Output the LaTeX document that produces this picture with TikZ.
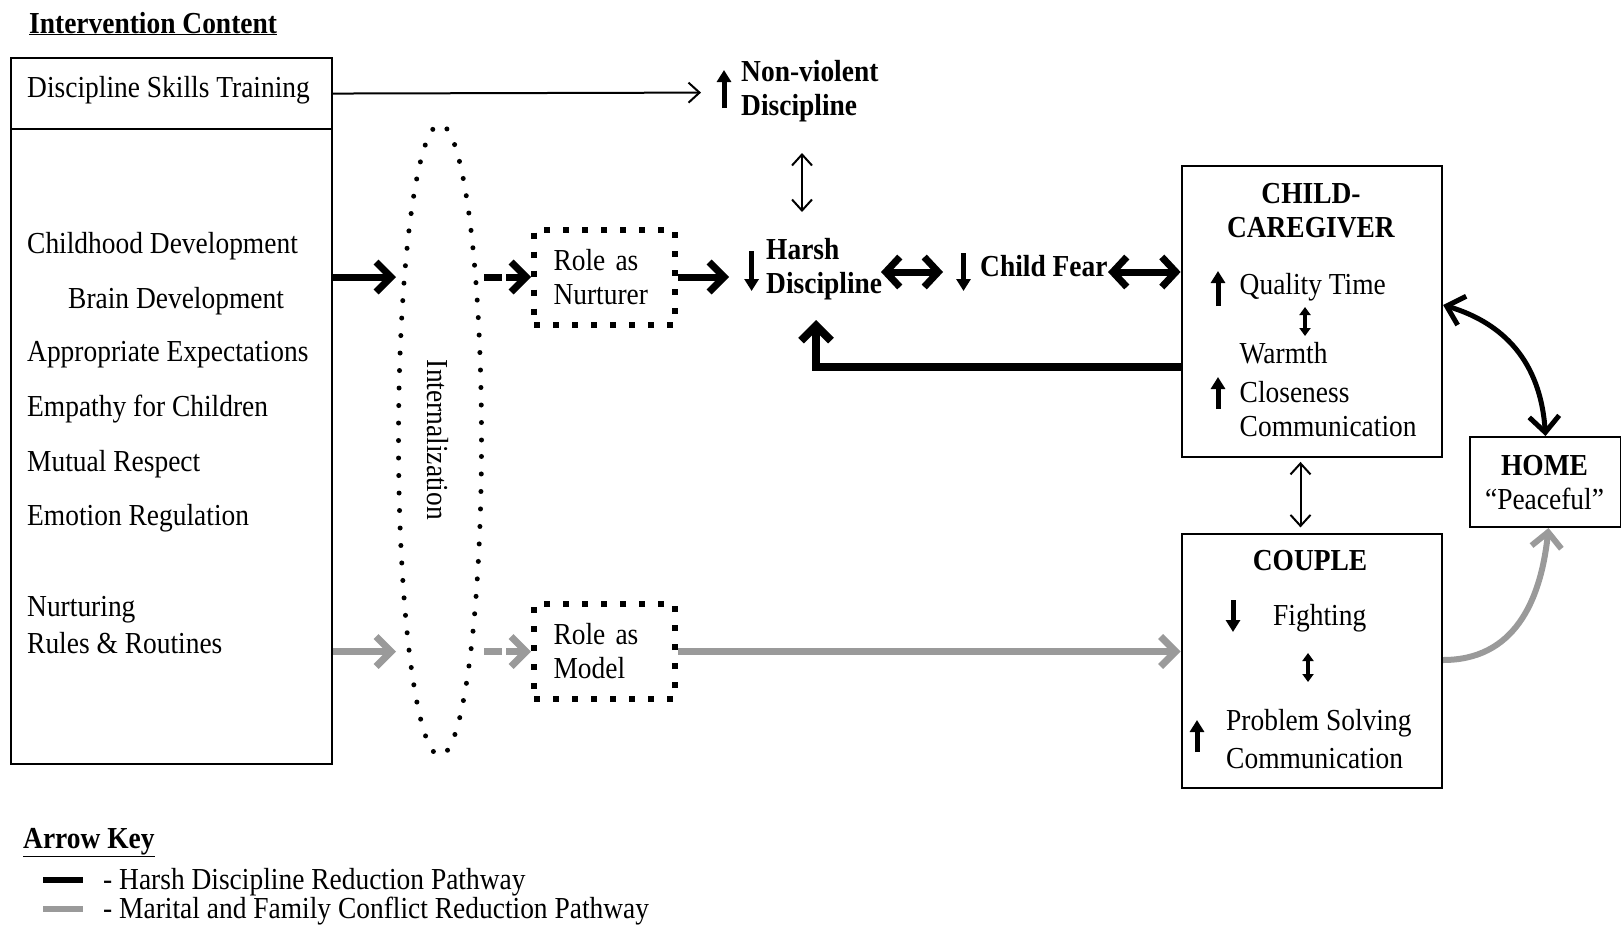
\documentclass[tikz,border=0pt]{standalone}
\usepackage{fontspec}
\setmainfont[FakeStretch=0.9]{Liberation Serif}
\usetikzlibrary{arrows.meta,shapes.geometric,calc}
\definecolor{pathgray}{HTML}{9A9A9A}
\begin{document}
\begin{tikzpicture}[x=1pt,y=1pt,
  every node/.style={font=\fontsize{30.5}{34}\selectfont},
  lbl/.style={inner sep=0pt, anchor=west, text height=21pt, text depth=7pt, yshift=-3pt},
  ctr/.style={inner sep=0pt, text height=21pt, text depth=7pt, yshift=-3pt},
  rotlbl/.style={inner sep=0pt, text height=21pt, text depth=7pt},
  box/.style={draw, line width=2pt, inner sep=0pt},
  dotbox/.style={draw, line width=6pt, dash pattern=on 6pt off 13pt, inner sep=0pt, align=left, text width=102pt, minimum width=141pt, minimum height=95pt},
  thinarrow/.style={line width=2pt, -{Straight Barb[length=11pt,width=20pt]}},
  thinboth/.style={line width=2pt, {Straight Barb[length=11pt,width=20pt]}-{Straight Barb[length=11pt,width=20pt]}},
  fatarrow/.style={line width=7pt, -{Straight Barb[length=15pt,width=30pt]}},
  fatboth/.style={line width=7pt, {Straight Barb[length=14pt,width=30pt]}-{Straight Barb[length=14pt,width=30pt]}},
  grayarrow/.style={line width=7pt, draw=pathgray, -{Straight Barb[length=15pt,width=30pt]}},
  updn/.style={line width=5pt, -{Triangle[length=12pt,width=14pt]}},
  smallboth/.style={line width=4pt, {Triangle[length=8pt,width=11pt]}-{Triangle[length=8pt,width=11pt]}},
]
\useasboundingbox (0,0) rectangle (1621,-924);

% title
\node[lbl] (title) at (29,-23) {\textbf{\underline{Intervention Content}}};

% left boxes
\node[box, minimum width=320.5pt, minimum height=71.3pt, anchor=north west] (dst) at (10.3,-56.9) {};
\node[box, minimum width=320.5pt, minimum height=634.8pt, anchor=north west] (lbox) at (10.3,-128.2) {};
\node[lbl] (t0) at (27,-87) {Discipline Skills Training};
\node[lbl] (t1) at (27,-243) {Childhood Development};
\node[lbl] (t2) at (68,-298) {Brain Development};
\node[lbl] (t3) at (27,-351) {Appropriate Expectations};
\node[lbl] (t4) at (27,-406) {Empathy for Children};
\node[lbl] (t5) at (27,-461) {Mutual Respect};
\node[lbl] (t6) at (27,-515) {Emotion Regulation};
\node[lbl] (t7) at (27,-606) {Nurturing};
\node[lbl] (t8) at (27,-643) {Rules \& Routines};

% internalization ellipse
\node[ellipse, draw, line width=5pt, dash pattern=on 0pt off 17.5pt, line cap=round,
      minimum width=83pt, minimum height=631pt, inner sep=0pt] (ell) at (440,-440) {};
\node[rotlbl, rotate=-90] (intl) at (434,-440) {Internalization};

% role boxes
\node[dotbox] (nur) at (604.5,-277) {Role as\\Nurturer};
\node[dotbox] (mod) at (604.5,-651.5) {Role as\\Model};

% non-violent discipline
\node[lbl] (nv1) at (741,-71) {\textbf{Non-violent}};
\node[lbl] (nv2) at (741,-105) {\textbf{Discipline}};
\draw[updn] (724,-108) -- (724,-70);
\coordinate (nvtip) at (701,-92.6);

% harsh discipline
\node[lbl] (hd1) at (766,-249) {\textbf{Harsh}};
\node[lbl] (hd2) at (766,-283) {\textbf{Discipline}};
\draw[updn] (751.6,-251) -- (751.6,-291);
\coordinate (hdin) at (729,-277);

% child fear
\node[lbl] (cf) at (980,-266) {\textbf{Child Fear}};
\draw[updn] (963.5,-253) -- (963.5,-291);
\coordinate (hfL) at (881,-272);
\coordinate (hfR) at (943,-272);
\coordinate (fcL) at (1108,-272);

% child-caregiver box
\node[box, minimum width=260.5pt, minimum height=290.5pt, anchor=north west] (c1) at (1180.6,-165.4) {};
\node[ctr] (c1a) at (1311,-193) {\textbf{CHILD-}};
\node[ctr] (c1b) at (1311,-227) {\textbf{CAREGIVER}};
\draw[updn] (1218,-306) -- (1218,-271);
\node[lbl] (qt) at (1239.5,-284) {Quality Time};
\draw[smallboth] (1305,-307) -- (1305,-336);
\node[lbl] (wm) at (1239.5,-353.5) {Warmth};
\draw[updn] (1218,-409) -- (1218,-377);
\node[lbl] (cl) at (1239.5,-392) {Closeness};
\node[lbl] (cm1) at (1239.5,-426) {Communication};

% couple box
\node[box, minimum width=260.5pt, minimum height=253.3pt, anchor=north west] (cp) at (1180.6,-533.4) {};
\node[ctr] (cpa) at (1310,-560) {\textbf{COUPLE}};
\draw[updn] (1233,-600) -- (1233,-632);
\node[lbl] (fi) at (1273,-615) {Fighting};
\draw[smallboth] (1308,-653) -- (1308,-682);
\draw[updn] (1197,-752) -- (1197,-720);
\node[lbl] (ps) at (1226,-720.5) {Problem Solving};
\node[lbl] (cm2) at (1226,-758) {Communication};

% home box
\node[box, minimum width=151pt, minimum height=90pt, anchor=north west] (home) at (1469,-436) {};
\node[ctr] (ha) at (1544.5,-465) {\textbf{HOME}};
\node[ctr] (hb) at (1544.5,-499) {“Peaceful”};

% helper coordinates
\coordinate (nvb) at (802,-153);
\coordinate (hdt) at (802,-212);
\coordinate (fbc) at (816,-367);
\coordinate (fb) at (816,-320);
\coordinate (cc) at (1300.5,-490);
\coordinate (cr) at (0,-305);
\coordinate (gr) at (0,-660);

% connectors: black pathway
\draw[thinarrow] (dst.east) -- (nvtip);
\draw[thinboth] (nvb) -- (hdt);
\draw[fatarrow] (lbox.east |- nur) -- (ell.west |- nur);
\draw[line width=7pt] (ell.east |- nur) -- ++(18,0);
\draw[fatarrow] ([xshift=22pt]ell.east |- nur) -- (nur.west);
\draw[fatarrow] (nur.east) -- (hdin);
\draw[fatboth] (hfL) -- (hfR);
\draw[fatboth] (fcL) -- (fcL -| c1.west);
\draw[line width=8pt, -{Straight Barb[length=15pt,width=30pt]}] (fbc -| c1.west) -- (fbc) -- (fb);
\draw[thinboth, shorten <=4pt, shorten >=6pt] (cc |- c1.south) -- (cc |- cp.north);
\draw[line width=5pt, {Straight Barb[length=16pt,width=30pt]}-{Straight Barb[length=16pt,width=30pt]}]
  (c1.east |- cr) .. controls +(60,-18) and +(-5,75) .. (home.north);

% gray pathway
\draw[grayarrow] (lbox.east |- mod) -- (ell.west |- mod);
\draw[line width=7pt, draw=pathgray] (ell.east |- mod) -- ++(18,0);
\draw[grayarrow] ([xshift=22pt]ell.east |- mod) -- (mod.west);
\draw[grayarrow] (mod.east) -- (mod.east -| cp.west);
\draw[grayarrow, line width=6pt] (cp.east |- gr) .. controls +(70,0) and +(-8,-75) .. ([xshift=3pt]home.south);

% arrow key
\node[lbl] (key) at (23,-838) {\textbf{\underline{Arrow Key}}};
\coordinate (k1a) at (43,-880);
\coordinate (k1b) at (83,-880);
\coordinate (k2a) at (43,-909);
\coordinate (k2b) at (83,-909);
\draw[line width=6pt] (k1a) -- (k1b);
\draw[line width=6pt, draw=pathgray] (k2a) -- (k2b);
\node[lbl] (kt1) at (103,-879) {- Harsh Discipline Reduction Pathway};
\node[lbl] (kt2) at (103,-908) {- Marital and Family Conflict Reduction Pathway};
\end{tikzpicture}
\end{document}
